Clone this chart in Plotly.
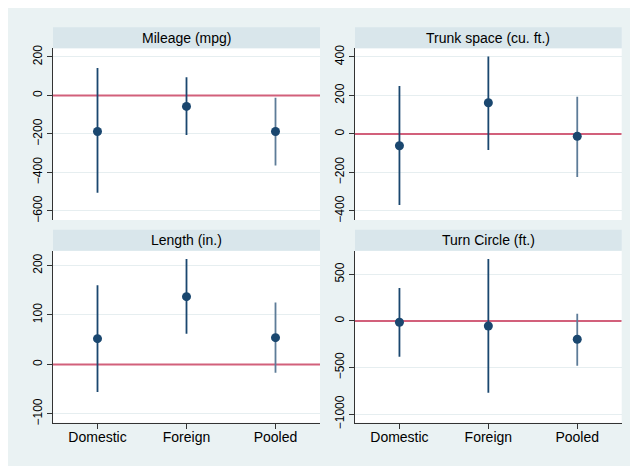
import plotly.graph_objects as go

# data (estimate, lower CI, upper CI)
groups = ["Domestic", "Foreign", "Pooled"]
group_pos = [1, 2, 3]

titles = ["Mileage (mpg)", "Trunk space (cu. ft.)", "Length (in.)", "Turn Circle (ft.)"]

mpg_est = [-187, -57, -187]
mpg_lo = [-506, -206, -364]
mpg_hi = [143, 94, -12]

trunk_est = [-61, 162, -12]
trunk_lo = [-369, -83, -223]
trunk_hi = [249, 402, 193]

length_est = [52, 137, 54]
length_lo = [-56, 62, -17]
length_hi = [160, 213, 125]

turn_est = [-14, -54, -196]
turn_lo = [-383, -769, -480]
turn_hi = [354, 665, 78]

mpg_ticks = [200, 0, -200, -400, -600]
trunk_ticks = [400, 200, 0, -200, -400]
length_ticks = [200, 100, 0, -100]
turn_ticks = [500, 0, -500, -1000]

# the page body has an 8px margin, so work in screen pixels and shift
OFF = 8
W, H = 638 - OFF, 466 - OFF
def px(x):
    return (x - OFF) / W
def py(y):
    return 1 - (y - OFF) / H

NAVY = "#1a476f"
POOLED = "#5d7c98"
BG = "#eaf2f3"
STRIP = "#d9e6eb"
GRID = "#e6eef0"
ZERO = "#d2607b"
AX = "#333333"

panels = [
    (mpg_est, mpg_lo, mpg_hi, mpg_ticks, [-647, 245]),
    (trunk_est, trunk_lo, trunk_hi, trunk_ticks, [-447, 445]),
    (length_est, length_lo, length_hi, length_ticks, [-118, 230]),
    (turn_est, turn_lo, turn_hi, turn_ticks, [-1091, 754]),
]
xr = [0.5, 3.5]

cols = [(53, 320), (355, 621.7)]
rows = [(48.3, 220), (250.7, 422.7)]
strip_h = 21

fig = go.Figure()
shapes = []
annotations = []

for i, (est, lo, hi, ticks, yr) in enumerate(panels):
    r, c = divmod(i, 2)
    n = "" if i == 0 else str(i + 1)
    xa, ya = "x" + n, "y" + n
    x0, x1 = cols[c]
    y0, y1 = rows[r]

    # zero reference line
    fig.add_trace(go.Scatter(
        x=xr, y=[0, 0], mode="lines", line=dict(color=ZERO, width=2),
        xaxis=xa, yaxis=ya, showlegend=False, hoverinfo="skip"))
    for k, g in enumerate(group_pos):
        fig.add_trace(go.Scatter(
            x=[g, g], y=[lo[k], hi[k]], mode="lines",
            line=dict(color=POOLED if k == 2 else NAVY, width=1.8),
            xaxis=xa, yaxis=ya, showlegend=False, hoverinfo="skip"))
    fig.add_trace(go.Scatter(
        x=group_pos, y=est, mode="markers",
        marker=dict(color=NAVY, size=9),
        xaxis=xa, yaxis=ya, showlegend=False))

    bottom = r == 1
    fig.update_layout({
        "xaxis" + n: dict(
            domain=[px(x0), px(x1)], range=xr, anchor=ya,
            tickvals=group_pos, ticktext=groups, showticklabels=bottom,
            ticks="outside" if bottom else "", ticklen=5, tickcolor=AX,
            ticklabelstandoff=-4,
            showline=bottom, linecolor=AX, linewidth=1, showgrid=False,
            zeroline=False, fixedrange=True, automargin=False,
            tickfont=dict(size=14, color="#000")),
        "yaxis" + n: dict(
            domain=[py(y1), py(y0)], range=yr, anchor=xa,
            tickvals=ticks, ticks="outside", ticklen=5, tickcolor=AX,
            showline=True, linecolor=AX, linewidth=1, automargin=False,
            showgrid=True, gridcolor=GRID, gridwidth=1, zeroline=False,
            tickangle=-90, tickfont=dict(size=12, color="#000")),
    })

    # title strip
    shapes.append(dict(type="rect", xref="paper", yref="paper",
                       x0=px(x0), x1=px(x1), y0=py(y0), y1=py(y0 - strip_h),
                       fillcolor=STRIP, line=dict(width=0), layer="below"))
    annotations.append(dict(text=titles[i], xref="paper", yref="paper",
                            x=(px(x0) + px(x1)) / 2, y=py(y0 - strip_h / 2),
                            showarrow=False, font=dict(size=14, color="#000"),
                            xanchor="center", yanchor="middle"))

fig.update_layout(
    width=W, height=H,
    margin=dict(l=0, r=0, t=0, b=0),
    paper_bgcolor=BG, plot_bgcolor="white",
    font=dict(family="Liberation Sans, Arial, sans-serif", color="#000"),
    shapes=shapes, annotations=annotations,
    showlegend=False,
)

fig.write_html("out.html")
